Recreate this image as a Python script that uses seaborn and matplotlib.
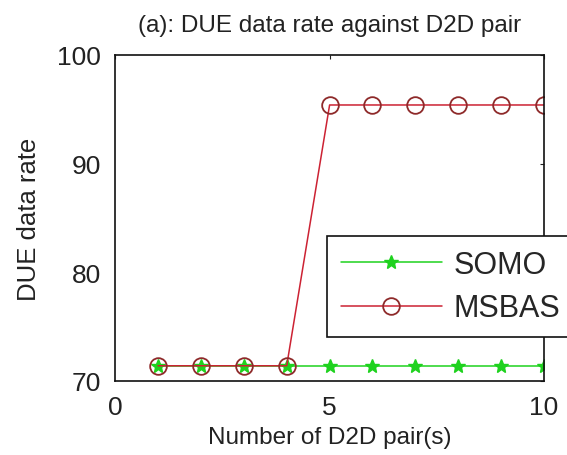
import pandas as pd
import seaborn as sns
import matplotlib.pyplot as plt

# values
pairs = [1, 2, 3, 4, 5, 6, 7, 8, 9, 10]
somo_rate = [71.4, 71.4, 71.4, 71.4, 71.4, 71.4, 71.4, 71.4, 71.4, 71.4]
msbas_rate = [71.4, 71.4, 71.4, 71.4, 95.4, 95.4, 95.4, 95.4, 95.4, 95.4]

x_ticks = [0, 5, 10]
y_ticks = [70, 80, 90, 100]

sns.set_style("white")
plt.rcParams["font.family"] = ["Liberation Sans", "DejaVu Sans"]

df = pd.DataFrame({"pairs": pairs, "SOMO": somo_rate, "MSBAS": msbas_rate})

fig = plt.figure(figsize=(5.67, 4.56), dpi=100)
ax = fig.add_axes([0.203, 0.1623, 0.7566, 0.7149])

sns.lineplot(data=df, x="pairs", y="SOMO", ax=ax, color="#1ed21e",
             marker="*", markersize=10, markeredgewidth=1.0,
             markeredgecolor="#1ed21e", linewidth=1.1, label="SOMO")
sns.lineplot(data=df, x="pairs", y="MSBAS", ax=ax, color="#cc2233",
             marker="o", markersize=12, markerfacecolor="none",
             markeredgewidth=1.3, markeredgecolor="#8e2a2a",
             linewidth=1.1, label="MSBAS")

ax.set_xlim(0, 10)
ax.set_ylim(70, 100)
ax.set_xticks(x_ticks)
ax.set_yticks(y_ticks)
ax.tick_params(direction="in", length=3, width=0.8, top=True, right=True,
               labelsize=19, pad=10, colors="#222222")

for s in ax.spines.values():
    s.set_color("#111111")
    s.set_linewidth(1.2)

ax.set_title("(a): DUE data rate against D2D pair", fontsize=17.5, pad=17,
             color="#222222")
ax.set_xlabel("Number of D2D pair(s)", fontsize=17.5, labelpad=5,
              color="#222222")
ax.set_ylabel("DUE data rate", fontsize=18.5, color="#222222")
ax.yaxis.set_label_coords(-0.172, 0.5)

leg = ax.legend(loc="upper left", bbox_to_anchor=(0.494, 0.445),
                borderaxespad=0, fontsize=22, handlelength=3.3,
                handletextpad=0.4, labelspacing=0.45, borderpad=0.45,
                fancybox=False, framealpha=1, edgecolor="#111111")
leg.get_frame().set_linewidth(1.2)

fig.savefig("out.png", dpi=100)
